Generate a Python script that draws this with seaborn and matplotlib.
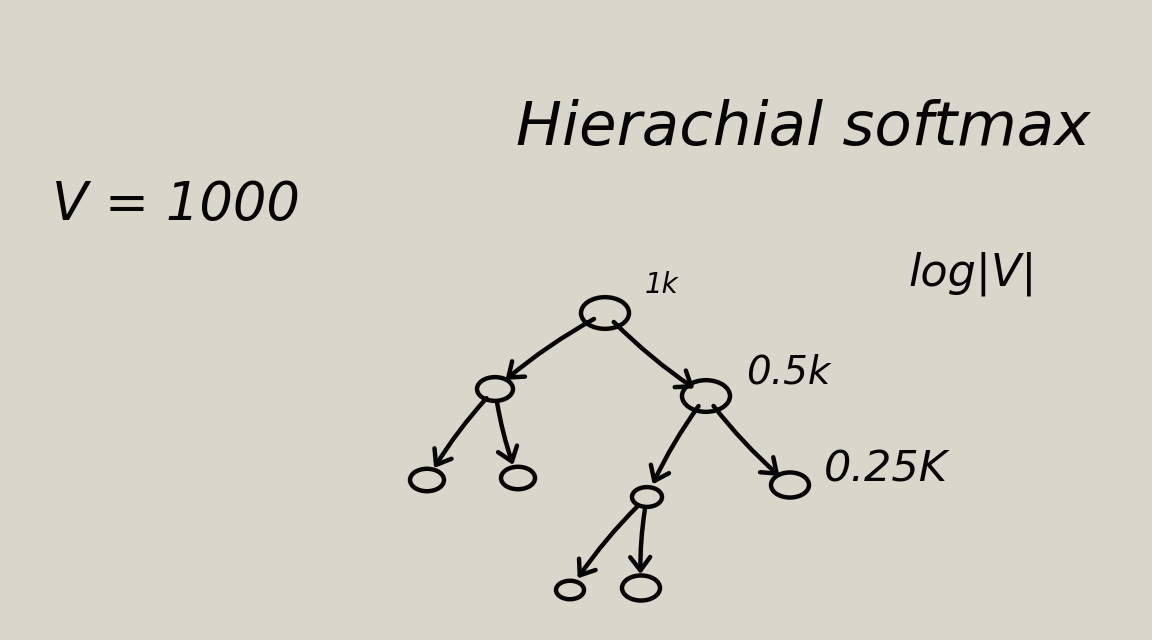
import matplotlib
matplotlib.use("Agg")
import matplotlib.pyplot as plt
import seaborn as sns
import numpy as np
import pandas as pd
from matplotlib.path import Path
from matplotlib.transforms import Affine2D

# ---- data ----
node_names = ["root", "a", "b", "aa", "ab", "ba", "bb", "baa", "bab"]
node_x = [605, 495, 706, 427, 518, 647, 790, 570, 641]
node_y = [313, 389, 396, 480, 478, 497, 485, 590, 588]
node_w = [48, 36, 48, 34, 34, 30, 38, 28, 38]
parent = [None, 0, 0, 1, 1, 2, 2, 5, 5]
size_labels = ["1k", "0.5k", "0.25K"]
size_label_x = [645, 746, 824]
size_label_y = [285, 372, 470]
size_label_fs = [20, 28, 31]
title_text = "Hierachial softmax"
vocab_text = "V = 1000"
depth_text = "log|V|"

BG = "#d9d7cb"
INK = "#050505"

sns.set_theme(style="white")
plt.rcParams['font.family'] = ['DejaVu Sans']

fig = plt.figure(figsize=(11.52, 6.4), dpi=100, facecolor=BG)
ax = fig.add_axes([0, 0, 1, 1])
ax.set_facecolor(BG)

df = pd.DataFrame({"name": node_names, "x": node_x, "y": node_y, "w": node_w})

# edges
for i, p in enumerate(parent):
    if p is None:
        continue
    ax.annotate("", xy=(node_x[i], node_y[i]), xytext=(node_x[p], node_y[p]),
                xycoords="data", textcoords="data",
                arrowprops=dict(arrowstyle="->,head_length=0.8,head_width=0.6",
                                lw=3.2, color=INK, shrinkA=9, shrinkB=10,
                                capstyle="round", joinstyle="round",
                                connectionstyle="arc3,rad=0.06"))

# nodes as flattened ellipses
ell = Path.unit_circle().transformed(Affine2D().scale(1.0, 0.66))
sizes = [(w * 0.72) ** 2 for w in node_w]
sns.scatterplot(data=df, x="x", y="y", marker=ell, s=sizes,
                facecolor="none", edgecolor=INK, linewidth=3.2, ax=ax, legend=False)

ax.set_xlim(0, 1152)
ax.set_ylim(640, 0)
ax.axis("off")

for t, x, y, fs in zip(size_labels, size_label_x, size_label_y, size_label_fs):
    ax.text(x, y, t, fontsize=fs, style="italic", color=INK,
            ha="left", va="center")

ax.text(516, 128, title_text, fontsize=44, style="italic", color=INK,
        ha="left", va="center")
ax.text(52, 205, vocab_text, fontsize=38, style="italic", color=INK,
        ha="left", va="center")
ax.text(908, 274, depth_text, fontsize=32, style="italic", color=INK,
        ha="left", va="center")

fig.savefig("out.png", dpi=100, facecolor=BG)
